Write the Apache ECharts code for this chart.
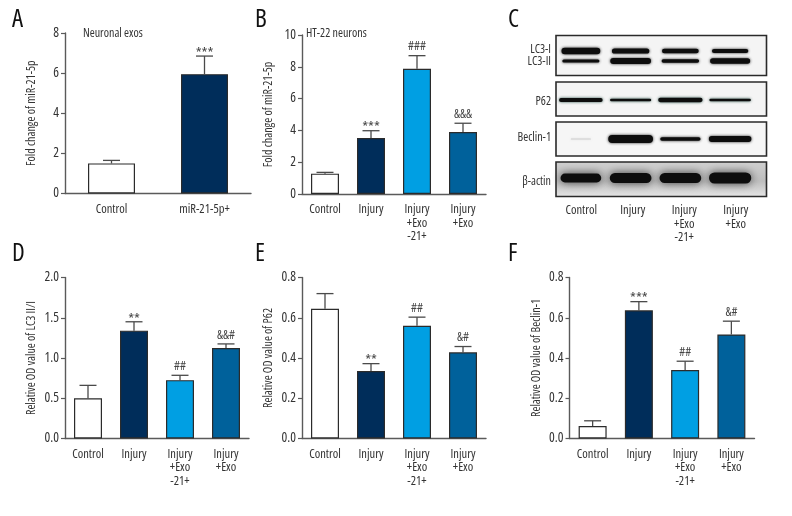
<!DOCTYPE html>
<html><head><meta charset="utf-8">
<style>html,body{margin:0;padding:0;background:#fff}#c{width:792px;height:516px}</style>
<script src="https://cdn.jsdelivr.net/npm/echarts@6/dist/echarts.min.js"></script>
</head><body><div id="c"></div>
<script>
var twoCats = ['Control', 'miR-21-5p+'];
var fourCats = ['Control', 'Injury', 'Injury\n+Exo\n-21+', 'Injury\n+Exo'];

var valuesA = [1.5, 5.95],  errTopA = [1.65, 6.85],  marksA = ['', '***'];
var valuesB = [1.28, 3.52, 7.87, 3.9], errTopB = [1.36, 3.98, 8.7, 4.45], marksB = ['', '***', '###', '&&&'];
var valuesD = [0.5, 1.34, 0.725, 1.125], errTopD = [0.66, 1.45, 0.785, 1.175], marksD = ['', '**', '##', '&&#'];
var valuesE = [0.645, 0.335, 0.56, 0.428], errTopE = [0.72, 0.372, 0.603, 0.457], marksE = ['', '**', '##', '&#'];
var valuesF = [0.062, 0.637, 0.34, 0.517], errTopF = [0.088, 0.68, 0.384, 0.583], marksF = ['', '***', '##', '&#'];

var blotLabels = ['LC3-I', 'LC3-II', 'P62', 'Beclin-1', 'β-actin'];
// band strength per lane, read from the blot
var bandLC3I = [1.0, 0.8, 0.7, 0.65];
var bandLC3II = [0.5, 1.0, 0.55, 0.9];
var bandP62 = [0.85, 0.55, 0.95, 0.6];
var bandBeclin = [0.08, 1.0, 0.45, 0.72];
var bandActin = [0.8, 0.93, 0.93, 1.0];

var FONT = '"Open Sans"', COND = 'condensed';
var INK = '#333', AXIS = '#5a5a5a';
var FILLS = ['#ffffff', '#002d5a', '#009fe3', '#00619b'];

var grids = [], xAxes = [], yAxes = [], series = [];

function panel(box, cats, yMax, yStep, digits, yName, vals, tops, marks, barW, fills) {
  var i = grids.length;
  grids.push({left: box[0], top: box[1], width: box[2], height: box[3], containLabel: false});
  xAxes.push({gridIndex: i, type: 'category', data: cats, boundaryGap: true,
    axisLine: {onZero: false, lineStyle: {color: AXIS, width: 1.4}},
    axisTick: {alignWithLabel: true, length: 4, lineStyle: {color: AXIS, width: 1.2}},
    axisLabel: {color: INK, fontFamily: FONT, fontWeight: COND, fontSize: 12.5, margin: 9, lineHeight: 13.5, interval: 0}});
  yAxes.push({gridIndex: i, type: 'value', min: 0, max: yMax, interval: yStep,
    name: yName, nameLocation: 'middle', nameRotate: 90, nameGap: 27,
    nameTextStyle: {color: INK, fontFamily: FONT, fontWeight: COND, fontSize: 12},
    splitLine: {show: false},
    axisLine: {show: true, lineStyle: {color: AXIS, width: 1.4}},
    axisTick: {show: true, length: 4, lineStyle: {color: AXIS, width: 1.2}},
    axisLabel: {color: INK, fontFamily: FONT, fontWeight: COND, fontSize: 13.5, margin: 6,
      formatter: function (v) { return v.toFixed(digits); }}});
  series.push({type: 'bar', xAxisIndex: i, yAxisIndex: i, barWidth: barW, silent: true,
    data: vals.map(function (v, k) {
      return {value: v, itemStyle: {color: fills[k], borderColor: '#2b2b2b', borderWidth: 1.2}};
    })});
  series.push({type: 'custom', xAxisIndex: i, yAxisIndex: i, silent: true, z: 1,
    data: vals.map(function (v, k) { return [k, v, tops[k]]; }),
    encode: {x: 0, y: [1, 2]},
    renderItem: function (p, api) {
      var a = api.coord([api.value(0), api.value(1)]);
      var b = api.coord([api.value(0), api.value(2)]);
      var ln = {stroke: '#4a4a4a', lineWidth: 1.3};
      var m = marks[api.value(0)];
      var star = m.charAt(0) === '*';
      return {type: 'group', children: [
        {type: 'line', shape: {x1: a[0], y1: a[1], x2: b[0], y2: b[1]}, style: ln},
        {type: 'line', shape: {x1: a[0] - 8.5, y1: b[1], x2: a[0] + 8.5, y2: b[1]}, style: ln},
        {type: 'text', style: {x: a[0], y: b[1] + (star ? 5 : -2.5), text: m,
          align: 'center', verticalAlign: 'bottom', fill: '#444', fontFamily: FONT, fontWeight: COND,
          fontSize: star ? 15 : 13}}
      ]};
    }});
}

panel([65, 33, 186, 160.5], twoCats, 8, 2, 0, 'Fold change of miR-21-5p', valuesA, errTopA, marksA, 47, [FILLS[0], FILLS[1]]);
panel([302, 35, 184, 159], fourCats, 10, 2, 0, 'Fold change of miR-21-5p', valuesB, errTopB, marksB, 28, FILLS);
panel([65, 277.5, 184, 161], fourCats, 2, 0.5, 1, 'Relative OD value of LC3 II/I', valuesD, errTopD, marksD, 28, FILLS);
panel([302, 277.5, 184, 161], fourCats, 0.8, 0.2, 1, 'Relative OD value of P62', valuesE, errTopE, marksE, 28, FILLS);
panel([569.5, 277.5, 185, 161], fourCats, 0.8, 0.2, 1, 'Relative OD value of Beclin-1', valuesF, errTopF, marksF, 28, FILLS);

// Panel C: lane labels come from a category axis, bands from a custom series over lane scale
var labelGrid = grids.length;
grids.push({left: 555.5, top: 35, width: 206, height: 162});
xAxes.push({gridIndex: labelGrid, type: 'category', data: fourCats,
  axisLine: {show: false}, axisTick: {show: false},
  axisLabel: {color: INK, fontFamily: FONT, fontWeight: COND, fontSize: 12.5, margin: 7, lineHeight: 13.5, interval: 0}});
yAxes.push({gridIndex: labelGrid, type: 'value', min: 0, max: 162, inverse: true, show: false});

var bandGrid = grids.length;
grids.push({left: 556, top: 35, width: 199, height: 162});
xAxes.push({gridIndex: bandGrid, type: 'category', data: [0, 1, 2, 3], show: false});
yAxes.push({gridIndex: bandGrid, type: 'value', min: 0, max: 162, inverse: true, show: false});

var rows = [
  {strength: bandActin, y: 143, h: 11, w: 0.85, glow: 'rgba(20,20,20,0.75)', blur: 9},
  {strength: bandLC3I, y: 16, h: 6.5, w: 0.78, glow: 'rgba(10,10,10,0.9)', blur: 3},
  {strength: bandLC3II, y: 26, h: 6, w: 0.82, glow: 'rgba(10,10,10,0.9)', blur: 3},
  {strength: bandP62, y: 65, h: 4.5, w: 0.9, glow: 'rgba(15,60,50,0.9)', blur: 3},
  {strength: bandBeclin, y: 104, h: 8, w: 0.9, glow: 'rgba(10,10,10,0.9)', blur: 3}
];
var bandData = [];
rows.forEach(function (r, ri) {
  r.strength.forEach(function (s, lane) { bandData.push([lane, r.y, s, ri]); });
});
series.push({type: 'custom', xAxisIndex: bandGrid, yAxisIndex: bandGrid, silent: true, z: 5,
  data: bandData, encode: {x: 0, y: 1},
  renderItem: function (p, api) {
    var c = api.coord([api.value(0), api.value(1)]);
    var s = api.value(2), r = rows[api.value(3)];
    var bw = api.size([1, 0])[0] * r.w * (s < 0.2 ? 0.45 : (0.82 + 0.18 * s));
    var h = Math.max(1, r.h * s);
    return {type: 'rect', shape: {x: c[0] - bw / 2, y: c[1] - h / 2, width: bw, height: h, r: h / 2},
      style: {fill: s < 0.2 ? '#cfcfcf' : '#0d0d0d', shadowBlur: s < 0.2 ? 2 : r.blur, shadowColor: s < 0.2 ? '#ddd' : r.glow}};
  }});

function lbl(text, x, y, size, align) {
  return {type: 'text', z: 20, style: {x: x, y: y, text: text, fontFamily: FONT, fontWeight: COND, fontSize: size,
    fill: align === 'big' ? '#111' : INK, align: align === 'right' ? 'right' : 'left', verticalAlign: 'middle'}};
}
function frame(y, h, bg) {
  return {type: 'rect', z: 1, shape: {x: 556, y: y, width: 210.5, height: h},
    style: {fill: bg, stroke: '#2a2a2a', lineWidth: 1.6}};
}
var graphics = [
  frame(35.5, 40, '#f4f4f4'), frame(82, 34, '#f4f4f4'), frame(122, 34, '#f6f6f6'),
  frame(162, 34.5, {type: 'linear', x: 0, y: 0, x2: 0, y2: 1, colorStops: [
    {offset: 0, color: '#d0d0d0'}, {offset: 0.55, color: '#bdbdbd'}, {offset: 1, color: '#e6e6e6'}]}),
  lbl('A', 12, 20, 25, 'big'), lbl('B', 255, 20, 25, 'big'), lbl('C', 508, 20, 25, 'big'),
  lbl('D', 12, 254, 25, 'big'), lbl('E', 255, 254, 25, 'big'), lbl('F', 508, 254, 25, 'big'),
  lbl('Neuronal exos', 83, 34, 12), lbl('HT-22 neurons', 306, 34, 12),
  lbl(blotLabels[0], 551, 50, 12, 'right'), lbl(blotLabels[1], 551, 62, 12, 'right'),
  lbl(blotLabels[2], 551, 102, 12, 'right'), lbl(blotLabels[3], 551, 138, 12, 'right'),
  lbl(blotLabels[4], 551, 182, 12, 'right')
];

var chart = echarts.init(document.getElementById('c'), null, {renderer: 'canvas'});
chart.setOption({animation: false, backgroundColor: '#fff', grid: grids, xAxis: xAxes, yAxis: yAxes,
  series: series, graphic: graphics});
</script></body></html>
